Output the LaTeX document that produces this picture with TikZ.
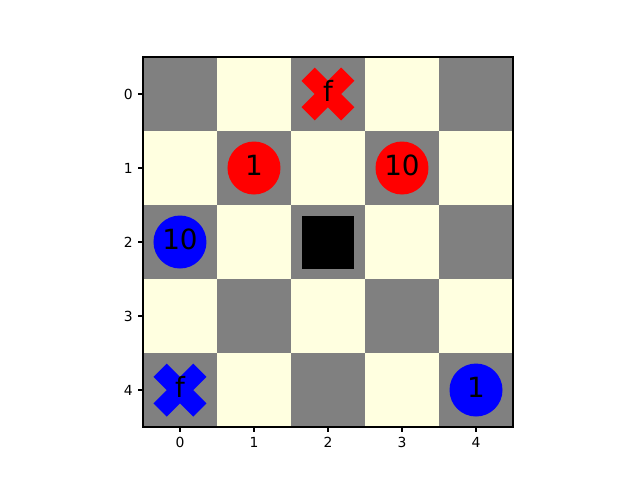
\documentclass[tikz,border=0pt]{standalone}
\usepackage{fontspec}
\setmainfont{DejaVu Sans}
\usetikzlibrary{positioning}
\definecolor{boarddark}{HTML}{808080}
\definecolor{boardlight}{HTML}{FFFFE0}

\begin{document}
\begin{tikzpicture}[
  x=1cm,y=1cm,
  piece/.style={circle,minimum size=0.716cm,inner sep=0pt,text depth=0.08cm,
    font=\fontsize{10.7}{12}\selectfont},
  block/.style={fill=black,minimum size=0.716cm,inner sep=0pt},
  flag/.style={inner sep=0pt,text depth=0.08cm,font=\fontsize{10.7}{12}\selectfont},
  ticklabel/.style={inner sep=0pt,font=\fontsize{5.34}{6}\selectfont},
  cross/.pic={
    \fill (-1,-2) -- (0,-1) -- (1,-2) -- (2,-1) -- (1,0) -- (2,1) -- (1,2)
      -- (0,1) -- (-1,2) -- (-2,1) -- (-1,0) -- (-2,-1) -- cycle;
  }
]
  \useasboundingbox (-2.432,-5.216) rectangle (6.216,1.270);

  % board squares
  \foreach \r in {0,...,4}
    \foreach \c in {0,...,4}{
      \pgfmathtruncatemacro{\parity}{mod(\r+\c,2)}
      \ifnum\parity=0 \def\cellcol{boarddark}\else\def\cellcol{boardlight}\fi
      \fill[\cellcol] (\c-0.5,-\r-0.5) rectangle ++(1,1);
    }
  \draw[line width=0.43pt] (-0.5,-4.5) rectangle (4.5,0.5);

  % ticks
  \foreach \i in {0,...,4}{
    \draw[line width=0.43pt] (\i,-4.5) -- ++(0,-0.066);
    \node[ticklabel,anchor=north] (xtick-\i) at (\i,-4.632) {\i};
    \draw[line width=0.43pt] (-0.5,-\i) -- ++(-0.066,0);
    \node[ticklabel,anchor=east] (ytick-\i) at (-0.632,-\i) {\i};
  }

  % pieces
  \pic[red,scale=0.179] at (2,0) {cross};
  \node[flag] (red-flag) at (2,0) {f};
  \node[piece,fill=red] (red-one) at (1,-1) {1};
  \node[piece,fill=red] (red-ten) at (3,-1) {10};
  \node[piece,fill=blue] (blue-ten) at (0,-2) {10};
  \node[block] (rock) at (2,-2) {};
  \pic[blue,scale=0.179] at (0,-4) {cross};
  \node[flag] (blue-flag) at (0,-4) {f};
  \node[piece,fill=blue] (blue-one) at (4,-4) {1};
\end{tikzpicture}
\end{document}
